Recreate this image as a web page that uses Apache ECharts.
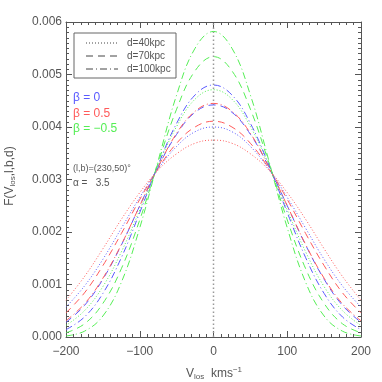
<!DOCTYPE html>
<html><head><meta charset="utf-8">
<script src="https://cdn.jsdelivr.net/npm/echarts@6/dist/echarts.min.js"></script>
<style>html,body{margin:0;padding:0;background:#fff}#c{width:382px;height:382px}</style>
</head><body><div id="c"></div>
<script>
const vel = [-200,-175,-150,-125,-100,-75,-50,-25,0,25,50,75,100,125,150,175,200];
const xTicks = [-200,-100,0,100,200];
const yTicks = [0.000,0.001,0.002,0.003,0.004,0.005,0.006];
// beta = -0.5 (green)
const g100 = [0.00002,0.00011,0.00040,0.00104,0.00208,0.00336,0.00461,0.00550,0.00582,0.00550,0.00461,0.00336,0.00208,0.00104,0.00040,0.00011,0.00002];
const g70  = [0.00008,0.00025,0.00064,0.00130,0.00223,0.00332,0.00434,0.00507,0.00534,0.00507,0.00434,0.00332,0.00223,0.00130,0.00064,0.00025,0.00008];
const g40  = [0.00022,0.00050,0.00096,0.00162,0.00242,0.00327,0.00401,0.00453,0.00471,0.00453,0.00401,0.00327,0.00242,0.00162,0.00096,0.00050,0.00022];
// beta = 0 (blue)
const b100 = [0.00014,0.00038,0.00083,0.00151,0.00237,0.00328,0.00407,0.00461,0.00480,0.00461,0.00407,0.00328,0.00237,0.00151,0.00083,0.00038,0.00014];
const b70  = [0.00028,0.00060,0.00110,0.00175,0.00250,0.00324,0.00386,0.00428,0.00442,0.00428,0.00386,0.00324,0.00250,0.00175,0.00110,0.00060,0.00028];
const b40  = [0.00057,0.00097,0.00148,0.00207,0.00266,0.00320,0.00363,0.00391,0.00400,0.00391,0.00363,0.00320,0.00266,0.00207,0.00148,0.00097,0.00057];
// beta = 0.5 (red)
const r100 = [0.00031,0.00063,0.00112,0.00176,0.00250,0.00324,0.00388,0.00430,0.00445,0.00430,0.00388,0.00324,0.00250,0.00176,0.00112,0.00063,0.00031];
const r70  = [0.00046,0.00084,0.00136,0.00197,0.00262,0.00321,0.00369,0.00400,0.00411,0.00400,0.00369,0.00321,0.00262,0.00197,0.00136,0.00084,0.00046];
const r40  = [0.00070,0.00115,0.00168,0.00224,0.00275,0.00318,0.00349,0.00369,0.00375,0.00369,0.00349,0.00318,0.00275,0.00224,0.00168,0.00115,0.00070];

const BLUE='#5a5aff', RED='#ff5a5a', GREEN='#55ee55';
const DOT=[1,2], DASH=[7,5], DASHDOT=[7,3,1,3];
const curves = [
  {d:r40,c:RED,s:DOT},{d:b40,c:BLUE,s:DOT},{d:g40,c:GREEN,s:DOT},
  {d:r70,c:RED,s:DASH},{d:b70,c:BLUE,s:DASH},{d:g70,c:GREEN,s:DASH},
  {d:r100,c:RED,s:DASHDOT},{d:b100,c:BLUE,s:DASHDOT},{d:g100,c:GREEN,s:DASHDOT}
];
const FONT='Liberation Sans', TXT='#555', AX='#555';
const chart = echarts.init(document.getElementById('c'));
const series = [{
  type:'line', data:[[0,0],[0,0.006]], symbol:'none', silent:true,
  lineStyle:{color:'#999',width:1.5,type:[1.5,2.5]}
}].concat(curves.map(k=>({
  type:'line', data: vel.map((v,i)=>[v,k.d[i]]), symbol:'none', smooth:0.4,
  lineStyle:{color:k.c,width:1,type:k.s}
})));
const xBase = {type:'value',min:-200,max:200,interval:100,splitNumber:4,
  axisLine:{show:true,onZero:false,lineStyle:{color:AX,width:1}},
  axisTick:{show:true,inside:true,length:6,lineStyle:{color:AX}},
  minorTick:{show:true,splitNumber:10,length:3,lineStyle:{color:AX}},
  splitLine:{show:false}};
const yBase = {type:'value',min:0,max:0.006,interval:0.001,
  axisLine:{show:true,onZero:false,lineStyle:{color:AX,width:1}},
  axisTick:{show:true,inside:true,length:6,lineStyle:{color:AX}},
  minorTick:{show:true,splitNumber:10,length:3,lineStyle:{color:AX}},
  splitLine:{show:false}};
const lbl = {color:TXT,fontFamily:FONT,fontSize:12};
chart.setOption({
  animation:false,
  grid:{left:66,right:21,top:22,bottom:45},
  xAxis:[Object.assign({},xBase,{position:'bottom',axisLabel:Object.assign({},lbl,{margin:9,formatter:v=>xTicks.includes(v)?String(v).replace('-','\u2212'):''})}),
         Object.assign({},xBase,{position:'top',axisLabel:{show:false}})],
  yAxis:[Object.assign({},yBase,{position:'left',axisLabel:Object.assign({},lbl,{margin:4,formatter:v=>v.toFixed(3)})}),
         Object.assign({},yBase,{position:'right',axisLabel:{show:false}})],
  series: series,
  graphic:[
    {type:'rect',shape:{x:74,y:33,width:102,height:45},style:{fill:'none',stroke:'#666',lineWidth:1}},
    {type:'line',shape:{x1:86,y1:43,x2:118,y2:43},style:{stroke:'#444',lineWidth:1,lineDash:DOT}},
    {type:'line',shape:{x1:86,y1:56,x2:118,y2:56},style:{stroke:'#444',lineWidth:1,lineDash:DASH}},
    {type:'line',shape:{x1:86,y1:69,x2:118,y2:69},style:{stroke:'#444',lineWidth:1,lineDash:DASHDOT}},
    {type:'text',x:127,y:43,style:{text:'d=40kpc',fill:TXT,font:'10px '+FONT,verticalAlign:'middle'}},
    {type:'text',x:127,y:56,style:{text:'d=70kpc',fill:TXT,font:'10px '+FONT,verticalAlign:'middle'}},
    {type:'text',x:127,y:69,style:{text:'d=100kpc',fill:TXT,font:'10px '+FONT,verticalAlign:'middle'}},
    {type:'text',x:73,y:98,style:{text:'\u03b2 = 0',fill:BLUE,font:'12px '+FONT,verticalAlign:'middle'}},
    {type:'text',x:73,y:114,style:{text:'\u03b2 = 0.5',fill:RED,font:'12px '+FONT,verticalAlign:'middle'}},
    {type:'text',x:73,y:129,style:{text:'\u03b2 = \u22120.5',fill:GREEN,font:'12px '+FONT,verticalAlign:'middle'}},
    {type:'text',x:73,y:169,style:{text:'(l,b)=(230,50)\u00b0',fill:TXT,font:'9px '+FONT,verticalAlign:'middle'}},
    {type:'text',x:73,y:183,style:{text:'\u03b1 =   3.5',fill:TXT,font:'10px '+FONT,verticalAlign:'middle'}},
    {type:'text',x:214,y:374,style:{text:'{a|V}{s|los}{a|  kms}{p|\u22121}',align:'center',verticalAlign:'middle',
      rich:{a:{fill:TXT,fontSize:12,fontFamily:FONT},s:{fill:TXT,fontSize:8,fontFamily:FONT,padding:[6,0,0,0]},p:{fill:TXT,fontSize:8,fontFamily:FONT,padding:[0,0,8,0]}}}},
    {type:'text',x:10,y:176,rotation:Math.PI/2,style:{text:'{a|F(V}{s|los}{a|,l,b,d)}',align:'center',verticalAlign:'middle',
      rich:{a:{fill:TXT,fontSize:12,fontFamily:FONT},s:{fill:TXT,fontSize:8,fontFamily:FONT,padding:[6,0,0,0]}}}}
  ]
});
</script></body></html>
